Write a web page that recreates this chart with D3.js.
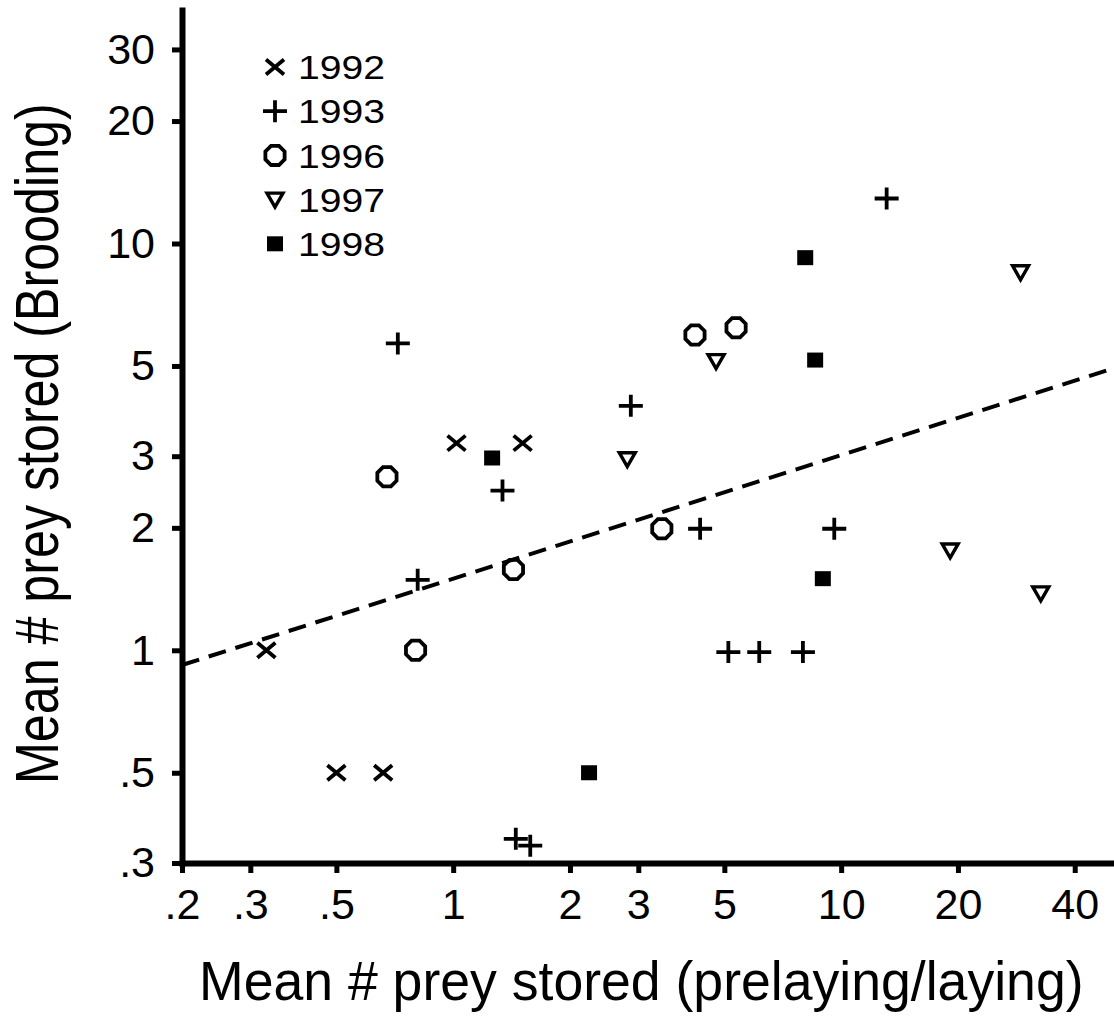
<!DOCTYPE html>
<html>
<head>
<meta charset="utf-8">
<script src="https://cdnjs.cloudflare.com/ajax/libs/d3/7.8.5/d3.min.js"></script>
<style>
  body { margin: 0; background: #fff; }
  svg { display: block; font-family: "Liberation Sans", Arial, Helvetica, sans-serif; }
</style>
</head>
<body>
<svg id="chart" width="1114" height="1018"></svg>
<script>
'use strict';

// one entry per year: [prelaying/laying, brooding]
var years  = ["1992", "1993", "1996", "1997", "1998"];
var shapes = ["cross", "plus", "octagon", "triangle", "square"];

var pts1992 = [[0.33, 1.0], [0.5, 0.5], [0.66, 0.5], [1.02, 3.23], [1.51, 3.23]];
var pts1993 = [[0.72, 5.68], [1.34, 2.47], [0.81, 1.49], [2.87, 3.99], [4.33, 1.99],
               [9.6, 1.99], [13.1, 12.9], [5.12, 0.99], [6.15, 0.99], [7.97, 0.99],
               [1.45, 0.344], [1.58, 0.331]];
var pts1996 = [[0.675, 2.67], [0.80, 1.0], [1.43, 1.58], [3.45, 1.99], [4.2, 5.96], [5.36, 6.21]];
var pts1997 = [[2.81, 2.95], [4.76, 5.14], [19.1, 1.76], [32.7, 1.38], [29.0, 8.5]];
var pts1998 = [[1.26, 2.97], [2.24, 0.5], [8.08, 9.23], [8.57, 5.17], [8.97, 1.5]];

var xTicks = [0.2, 0.3, 0.5, 1, 2, 3, 5, 10, 20, 40];
var yTicks = [0.3, 0.5, 1, 2, 3, 5, 10, 20, 30];

// fitted (dashed) line, end points
var fitLine = [[0.2, 0.92], [50.5, 4.94]];

var series = [pts1992, pts1993, pts1996, pts1997, pts1998];

var svg = d3.select("#chart"),
    margin = {top: 10, right: 0, bottom: 155, left: 182},
    width = +svg.attr("width") - margin.left - margin.right,
    height = +svg.attr("height") - margin.top - margin.bottom;

var x = d3.scaleLog().domain([0.2, 50.5]).range([0, width]);
var y = d3.scaleLog().domain([0.3, 37.5]).range([height, 0]);

var fmt = function(d) { return d < 1 ? String(d).replace(/^0/, "") : String(d); };

var g = svg.append("g")
    .attr("transform", "translate(" + margin.left + "," + margin.top + ")");

// marker outlines, centred on the point
function markerPath(shape) {
  if (shape === "cross") return "M-9,-7.5L9,7.5M-9,7.5L9,-7.5";
  if (shape === "plus") return "M-12,0L12,0M0,-11L0,11";
  if (shape === "triangle") return "M-8,-6.5L8,-6.5L0,7.5Z";
  if (shape === "square") return "M-8,-7.5h16v15h-16Z";
  var r = 10.4;
  return d3.line()(d3.range(8).map(function(i) {
    var a = (22.5 + 45 * i) * Math.PI / 180;
    return [r * Math.cos(a), r * Math.sin(a)];
  })) + "Z";
}

function styleMarker(sel, shape) {
  sel.attr("d", markerPath(shape))
     .attr("fill", shape === "square" ? "#000" : "none")
     .attr("stroke", shape === "square" ? "none" : "#000")
     .attr("stroke-width", shape === "triangle" ? 3.4 : 3.8)
     .attr("stroke-linejoin", "miter");
}

// x axis
var xAxis = g.append("g")
    .attr("transform", "translate(0," + height + ")")
    .call(d3.axisBottom(x).tickValues(xTicks).tickFormat(fmt)
          .tickSize(10).tickSizeOuter(0).tickPadding(15));

// y axis
var yAxis = g.append("g")
    .call(d3.axisLeft(y).tickValues(yTicks).tickFormat(fmt)
          .tickSize(10).tickSizeOuter(0).tickPadding(17));

[xAxis, yAxis].forEach(function(ax) {
  ax.select(".domain").attr("stroke-width", 6).attr("stroke-linecap", "square");
  ax.selectAll(".tick line").attr("stroke-width", 5);
  ax.selectAll(".tick text")
    .attr("font-size", 43)
    .attr("font-family", "'Liberation Sans', Arial, sans-serif")
    .attr("fill", "#000");
});

// dashed fit line
g.append("path")
    .datum(fitLine)
    .attr("fill", "none")
    .attr("stroke", "#000")
    .attr("stroke-width", 4)
    .attr("stroke-dasharray", "18,10")
    .attr("d", d3.line().x(function(d) { return x(d[0]); }).y(function(d) { return y(d[1]); }));

// points
series.forEach(function(pts, i) {
  g.selectAll(".m" + years[i])
    .data(pts)
    .enter().append("path")
      .attr("class", "m" + years[i])
      .attr("transform", function(d) { return "translate(" + x(d[0]) + "," + y(d[1]) + ")"; })
      .call(styleMarker, shapes[i]);
});

// legend
var legend = svg.selectAll(".legend")
    .data(years)
    .enter().append("g")
      .attr("class", "legend")
      .attr("transform", function(d, i) { return "translate(275," + (67 + i * 44.2) + ")"; });

legend.each(function(d, i) {
  var row = d3.select(this);
  row.append("path").call(styleMarker, shapes[i]);
  row.append("text")
    .attr("x", 23)
    .attr("dy", "0.36em")
    .attr("font-size", 34)
    .attr("textLength", 87)
    .attr("lengthAdjust", "spacingAndGlyphs")
    .text(d);
});

// axis titles
svg.append("text")
    .attr("transform", "translate(199,1000) scale(1,1.05)")
    .attr("font-size", 53.6)
    .text("Mean # prey stored (prelaying/laying)");

svg.append("text")
    .attr("transform", "translate(58,784) rotate(-90) scale(1,1.2)")
    .attr("font-size", 50.2)
    .text("Mean # prey stored (Brooding)");
</script>
</body>
</html>
